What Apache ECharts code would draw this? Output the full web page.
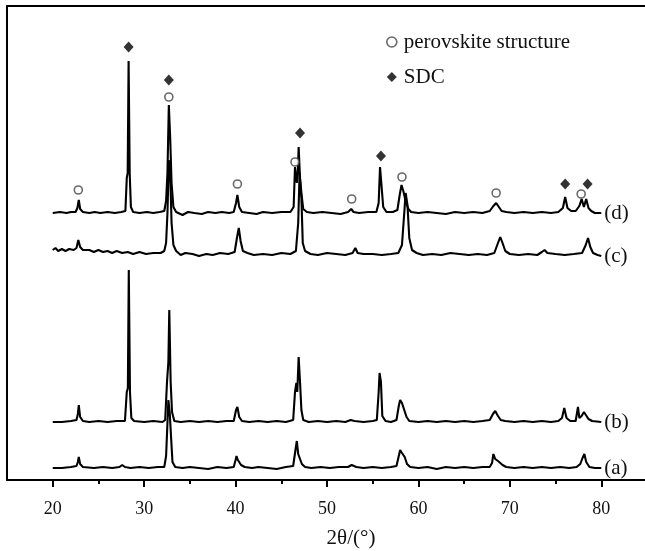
<!DOCTYPE html>
<html>
<head>
<meta charset="utf-8">
<script src="https://cdn.jsdelivr.net/npm/echarts@6/dist/echarts.min.js"></script>
<style>
html,body{margin:0;padding:0;background:#fff;}
#chart{width:645px;height:551px;}
</style>
</head>
<body>
<div id="chart"></div>
<script>
// ---- data (2θ in degrees, intensity in arbitrary units above each trace's own baseline) ----
const traceNames = ['(a)', '(b)', '(c)', '(d)'];
const baselineOffsets = [12, 58, 227, 267];

const trace_a = [
[20.0,0],[21.0,0],[22.0,1],[22.6,2],[22.75,6],[22.85,11],[23.0,4],[23.3,1],[24.5,0],[25.5,1],[26.5,0],[27.3,1],[27.6,3],[27.9,1],
[28.5,0],[29.5,1],[30.5,0],[31.5,1],[32.2,1],[32.4,12],[32.55,45],[32.65,68],[32.8,55],[32.95,30],[33.1,6],[33.4,1],[34.2,0],[35.0,1],
[36.0,0],[37.0,-1],[38.0,1],[39.0,0],[39.8,1],[40.0,8],[40.1,12],[40.25,8],[40.4,10],[40.6,3],[41.0,1],[41.8,0],[42.5,1],[43.5,0],
[44.5,-1],[45.5,1],[46.3,2],[46.55,18],[46.7,27],[46.85,14],[47.05,15],[47.25,4],[47.6,1],[48.3,0],[49.3,1],[50.3,0],[51.3,1],[52.3,1],
[52.7,3],[52.9,4],[53.2,1],[54.0,0],[55.0,1],[56.0,0],[57.0,1],[57.6,2],[57.85,12],[58.0,18],[58.2,15],[58.5,11],[58.75,4],[59.1,1],
[60.0,0],[61.0,1],[62.0,-1],[63.0,1],[64.0,0],[65.0,1],[66.0,0],[67.0,1],[67.8,1],[68.05,5],[68.2,14],[68.4,9],[68.7,7],[68.9,8],
[69.2,3],[69.6,1],[70.5,0],[71.5,1],[72.5,0],[73.5,1],[74.5,0],[75.5,1],[76.5,0],[77.3,1],[77.7,4],[77.95,10],[78.15,14],[78.35,6],
[78.7,1],[79.3,0],[80.0,0]
];

const trace_b = [
[20.0,0],[21.0,0],[22.0,1],[22.6,2],[22.75,8],[22.85,17],[23.0,5],[23.3,1],[24.0,0],[25.0,1],[26.0,0],[27.0,1],[27.9,1],[28.1,30],
[28.22,34],[28.32,152],[28.45,30],[28.6,4],[28.9,1],[30.0,0],[31.0,1],[32.0,0],[32.3,2],[32.5,40],[32.65,60],[32.75,112],[32.9,40],
[33.05,10],[33.3,1],[34.0,0],[35.0,1],[36.0,0],[37.0,1],[38.0,0],[39.0,1],[39.8,1],[40.05,12],[40.2,15],[40.4,5],[40.7,1],[41.5,0],
[42.5,1],[43.5,0],[44.5,1],[45.5,0],[46.3,2],[46.5,30],[46.65,39],[46.75,30],[46.9,65],[47.05,40],[47.2,12],[47.4,2],[48.0,0],[49.0,1],
[50.0,0],[51.0,1],[52.0,0],[52.6,2],[52.8,4],[53.0,1],[54.0,0],[55.0,1],[55.45,2],[55.65,30],[55.75,49],[55.9,40],[56.05,6],[56.4,1],
[57.0,0],[57.6,2],[57.85,16],[58.0,22],[58.2,19],[58.45,12],[58.7,5],[59.0,1],[60.0,0],[61.0,1],[62.0,0],[63.0,1],[64.0,0],[65.0,1],
[66.0,0],[67.0,1],[67.8,2],[68.15,8],[68.4,11],[68.7,6],[69.0,2],[69.5,1],[70.5,0],[71.5,1],[72.5,0],[73.5,1],[74.5,0],[75.3,1],
[75.7,4],[75.95,14],[76.2,4],[76.6,1],[77.2,1],[77.45,15],[77.6,4],[77.85,6],[78.1,10],[78.3,8],[78.6,3],[79.0,1],[80.0,0]
];

const trace_c = [
[20.0,3],[20.3,5],[20.6,2],[21.0,4],[21.4,2],[21.8,4],[22.3,3],[22.6,5],[22.8,13],[23.0,6],[23.3,3],[24.0,3],[24.5,1],[25.0,3],
[25.5,1],[26.0,2],[26.5,0],[27.0,2],[27.6,0],[28.2,1],[28.8,-1],[29.5,1],[30.2,-1],[31.0,0],[31.8,0],[32.2,2],[32.4,10],[32.55,40],
[32.7,93],[32.85,80],[33.0,30],[33.2,8],[33.5,2],[34.0,-2],[34.5,0],[35.3,-1],[36.0,-3],[36.8,-1],[37.5,-2],[38.3,0],[39.2,-1],
[39.9,1],[40.15,15],[40.35,25],[40.55,12],[40.8,2],[41.3,0],[42.0,-2],[43.0,-1],[44.0,-2],[45.0,0],[46.0,-1],[46.6,2],[46.85,30],
[47.0,80],[47.2,55],[47.35,10],[47.6,2],[48.2,-1],[49.0,-2],[50.0,0],[51.0,-1],[52.0,-2],[52.8,0],[53.1,5],[53.35,0],[54.0,-1],
[55.0,-1],[56.0,-2],[57.0,-1],[57.8,0],[58.2,8],[58.45,40],[58.6,60],[58.8,48],[59.0,15],[59.3,3],[59.8,0],[60.5,-2],[61.5,-1],
[62.5,-2],[63.5,0],[64.5,-1],[65.5,-2],[66.5,-1],[67.5,-2],[68.3,0],[68.7,10],[68.95,16],[69.2,10],[69.5,2],[70.0,-1],[71.0,-2],
[72.0,-1],[73.0,-2],[73.5,1],[73.8,3],[74.1,0],[75.0,-1],[76.0,-2],[77.0,-1],[77.9,0],[78.3,8],[78.55,15],[78.8,6],[79.1,0],
[79.6,-2],[80.0,-3]
];

const trace_d = [
[20.0,0],[20.8,1],[21.5,0],[22.0,1],[22.5,1],[22.7,5],[22.85,13],[23.0,4],[23.3,1],[24.0,0],[24.6,1],[25.2,0],[26.0,1],[26.8,0],
[27.5,1],[27.95,2],[28.1,35],[28.2,40],[28.3,152],[28.42,40],[28.55,6],[28.8,1],[29.5,0],[30.3,1],[31.0,0],[31.7,1],[32.2,2],
[32.4,12],[32.55,40],[32.7,108],[32.85,75],[33.0,30],[33.2,6],[33.5,1],[34.2,-2],[34.8,1],[35.5,0],[36.3,-1],[37.0,1],[37.8,0],
[38.5,1],[39.3,0],[39.8,1],[40.05,10],[40.2,18],[40.4,6],[40.7,1],[41.5,0],[42.3,-1],[43.0,1],[44.0,0],[45.0,1],[46.0,1],[46.35,6],
[46.5,46],[46.7,30],[46.8,40],[46.9,66],[47.05,35],[47.2,20],[47.4,4],[47.8,1],[48.5,0],[49.5,1],[50.5,0],[51.5,-1],[52.3,1],
[52.65,4],[52.9,1],[53.5,0],[54.5,1],[55.4,1],[55.65,10],[55.8,46],[55.95,44],[56.15,6],[56.5,1],[57.2,1],[57.7,3],[57.95,18],
[58.15,28],[58.35,22],[58.6,12],[58.9,4],[59.2,1],[60.0,0],[61.0,1],[62.0,0],[63.0,-1],[64.0,1],[65.0,0],[66.0,1],[67.0,0],
[67.8,2],[68.2,7],[68.5,10],[68.8,6],[69.1,2],[69.6,1],[70.5,0],[71.5,1],[72.5,0],[73.5,1],[74.5,0],[75.3,1],[75.8,5],[76.05,16],
[76.3,5],[76.7,2],[77.2,2],[77.6,7],[77.85,14],[78.1,6],[78.35,14],[78.6,5],[78.9,2],[79.3,0],[80.0,0]
];

// phase markers above trace (d): [2θ, level on the plot's intensity scale]
const perovskiteMarks = [[22.8,290],[32.7,383],[40.2,296],[46.5,318],[52.7,281],[58.2,303],[68.5,287],[77.8,286]];
const sdcMarks = [[28.3,433],[32.7,400],[47.05,347],[55.9,324],[76.05,296],[78.5,296]];

const xTickValues = [20, 30, 40, 50, 60, 70, 80];
const xMinorTickValues = [25, 35, 45, 55, 65, 75];

// ---- chart ----
const FONT = '"Liberation Serif", "Times New Roman", serif';
const INK = '#000';
const traces = [trace_a, trace_b, trace_c, trace_d];

const lineSeries = traces.map((tr, i) => ({
  name: traceNames[i],
  type: 'line',
  showSymbol: false,
  symbol: 'none',
  silent: true,
  data: tr.map(p => [p[0], p[1] + baselineOffsets[i]]),
  lineStyle: { color: INK, width: 2.1 },
  endLabel: {
    show: true,
    formatter: traceNames[i],
    fontFamily: FONT,
    fontSize: 21,
    color: '#111',
    distance: 3
  },
  z: 3
}));

const chart = echarts.init(document.getElementById('chart'), null, { renderer: 'canvas' });
chart.setOption({
  animation: false,
  backgroundColor: '#fff',
  grid: {
    left: 7, top: 6, width: 640, height: 474,
    show: false,
    outerBoundsMode: 'none',
    containLabel: false
  },
  legend: {
    orient: 'vertical',
    left: 381, top: 26,
    itemWidth: 10, itemHeight: 10,
    itemGap: 13,
    textStyle: { fontFamily: FONT, fontSize: 21, color: '#111', lineHeight: 22, padding: [0, 0, 0, 2] },
    data: [
      { name: 'perovskite structure', icon: 'circle', itemStyle: { color: '#fff', borderColor: '#444', borderWidth: 1.6 } },
      { name: 'SDC', icon: 'diamond', itemStyle: { color: INK } }
    ]
  },
  xAxis: [
    {
      type: 'value', min: 15, max: 85,
      name: '2θ/(°)', nameLocation: 'middle', nameGap: 48,
      nameTextStyle: { fontFamily: FONT, fontSize: 21, color: '#111', padding: [0, 0, 0, 48] },
      axisLine: { show: true, onZero: false, lineStyle: { color: INK, width: 2 } },
      axisTick: { show: true, inside: false, length: 7, lineStyle: { color: INK, width: 2 }, customValues: xTickValues },
      axisLabel: { show: true, fontFamily: FONT, fontSize: 18, color: '#111', margin: 20, customValues: xTickValues },
      splitLine: { show: false }
    },
    {
      type: 'value', min: 15, max: 85, position: 'bottom',
      axisLine: { show: false },
      axisTick: { show: true, inside: false, length: 4, lineStyle: { color: INK, width: 2 }, customValues: xMinorTickValues },
      axisLabel: { show: false, customValues: xMinorTickValues },
      splitLine: { show: false }
    },
    {
      type: 'value', min: 15, max: 85, position: 'top',
      axisLine: { show: true, onZero: false, lineStyle: { color: INK, width: 2 } },
      axisTick: { show: false },
      axisLabel: { show: false },
      splitLine: { show: false }
    }
  ],
  yAxis: {
    type: 'value', min: 0, max: 474,
    axisLine: { show: true, onZero: false, lineStyle: { color: INK, width: 2 } },
    axisTick: { show: false },
    axisLabel: { show: false },
    splitLine: { show: false }
  },
  series: lineSeries.concat([
    {
      name: 'perovskite structure',
      type: 'scatter',
      symbol: 'circle',
      symbolSize: 8,
      data: perovskiteMarks,
      itemStyle: { color: '#fff', borderColor: '#444', borderWidth: 1.6 },
      z: 4
    },
    {
      name: 'SDC',
      type: 'scatter',
      symbol: 'diamond',
      symbolSize: [10, 11],
      data: sdcMarks,
      itemStyle: { color: INK },
      z: 4
    }
  ])
});
</script>
</body>
</html>
